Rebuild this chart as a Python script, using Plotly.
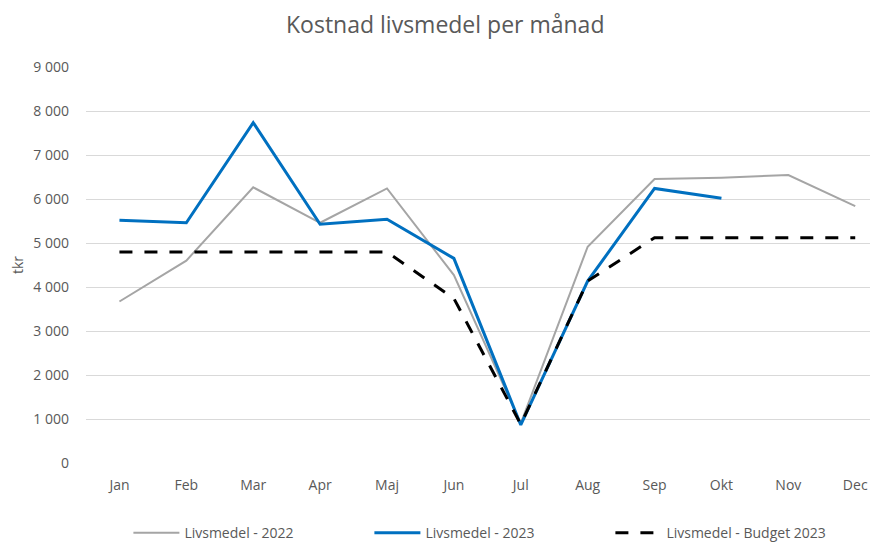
import plotly.graph_objects as go

months = ["Jan", "Feb", "Mar", "Apr", "Maj", "Jun", "Jul", "Aug", "Sep", "Okt", "Nov", "Dec"]
y2022 = [3670, 4600, 6265, 5460, 6240, 4270, 900, 4915, 6455, 6485, 6545, 5840]
y2023 = [5515, 5460, 7735, 5425, 5540, 4650, 865, 4135, 6240, 6015, None, None]
budget = [4795, 4795, 4795, 4795, 4795, 3740, 880, 4135, 5120, 5120, 5120, 5120]
yticks = [0, 1000, 2000, 3000, 4000, 5000, 6000, 7000, 8000, 9000]

fig = go.Figure()
fig.add_trace(go.Scatter(x=months, y=y2022, mode="lines", name="Livsmedel - 2022",
                         line=dict(color="#A5A5A5", width=2)))
fig.add_trace(go.Scatter(x=months, y=y2023, mode="lines", name="Livsmedel - 2023",
                         line=dict(color="#0070C0", width=3)))
fig.add_trace(go.Scatter(x=months, y=budget, mode="lines", name="Livsmedel - Budget 2023",
                         line=dict(color="#000000", width=3, dash="13px,12px")))

font = "'Open Sans', sans-serif"
fig.update_layout(
    width=878, height=544,
    margin=dict(l=78, r=0, t=59, b=89, autoexpand=False),
    paper_bgcolor="white", plot_bgcolor="white",
    separators=", ",
    title=dict(text="Kostnad livsmedel per månad", x=0.498, xanchor="center", y=0.968, yanchor="middle",
               font=dict(family=font, size=23, color="#595959")),
    font=dict(family=font, color="#595959", size=14),
    xaxis=dict(range=[-0.5, 11.46], showgrid=False, showline=False, zeroline=False,
               ticks="", automargin=False, ticklabelstandoff=12,
               tickfont=dict(size=14, color="#595959")),
    yaxis=dict(range=[0, 9000], tickvals=yticks, tickformat=",d", showgrid=True,
               gridcolor="#D9D9D9", gridwidth=1, zeroline=False, showline=False, ticks="",
               ticklabelstandoff=16, automargin=False,
               title=dict(text="tkr", font=dict(size=14, color="#595959"), standoff=8),
               tickfont=dict(size=14, color="#595959")),
    legend=dict(orientation="h", x=0.053, xanchor="left", y=-0.177, yanchor="middle",
                font=dict(size=14, color="#595959"), entrywidth=180, itemwidth=46,
                traceorder="normal"),
    showlegend=True,
)
fig.write_html("out.html")
